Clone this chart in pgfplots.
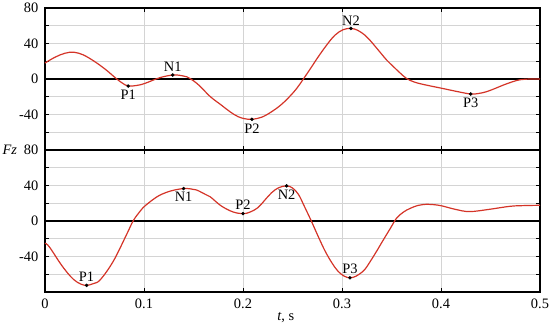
\documentclass[border=0pt]{standalone}
\usepackage{fontspec}
\setmainfont{Liberation Serif}
\usepackage{pgfplots}
\pgfplotsset{compat=1.18}
\definecolor{curve}{RGB}{212,52,40}
\definecolor{gridc}{RGB}{212,212,212}
\tikzset{lab/.style={font=\fontsize{10.8}{13}\selectfont, inner sep=1pt}}
\pgfplotsset{
  panel/.style={
    scale only axis, width=371.25pt, height=106.5pt,
    xmin=0, xmax=0.5, ymin=-80, ymax=80,
    xtick={0,0.1,0.2,0.3,0.4,0.5},
    ytick={-40,40,80}, yticklabels={-40,40,80},
    minor ytick={-60,-20,20,60},
    extra y ticks={0}, extra y tick labels={0},
    extra y tick style={grid=major, major grid style={black, line width=1.1pt}},
    grid=both,
    major grid style={gridc, line width=0.6pt},
    minor grid style={gridc, line width=0.6pt},
    tick align=inside, major tick length=3pt, minor tick length=3pt,
    tick style={black, line width=0.5pt},
    axis line style={black, line width=0.8pt},
    font=\fontsize{10.8}{13}\selectfont,
    tick label style={font=\fontsize{10.8}{13}\selectfont},
    yticklabel style={xshift=-1.5pt},
    clip=false,
  },
  curvest/.style={curve, line width=0.9pt, smooth, tension=0.6, mark=none},
  pts/.style={only marks, mark=*, mark size=1.1pt, black},
}
\begin{document}
\begin{tikzpicture}
% bottom panel
\begin{axis}[panel, at={(0,0)}, anchor=south west,
  xticklabels={0,0.1,0.2,0.3,0.4,0.5},
  xticklabel style={yshift=-2pt},
  xlabel={\textit{t}, s},
  xlabel style={at={(axis description cs:0.5,0)}, anchor=center, yshift=-19.5pt, xshift=-5pt},
]
\addplot[curvest] coordinates {
(0,-25)(0.0043,-29)(0.015,-47)(0.022,-57.5)(0.029,-66)(0.036,-71)(0.042,-72.5)(0.049,-70.5)(0.056,-66)(0.069,-45.3)
(0.0825,-15)(0.089,0)(0.095,9.5)(0.101,17)(0.113,27.2)(0.122,32)(0.130,34.7)(0.140,36.6)(0.147,36.2)(0.153,35)
(0.162,30)(0.167,27.2)(0.178,17)(0.190,10.2)(0.200,8.3)(0.207,10)(0.215,15)(0.222,23.5)(0.229,32)(0.236,37.5)(0.244,39.6)
(0.250,37.2)(0.256,30)(0.262,16.5)(0.269,0)(0.276,-17.5)(0.283,-34)(0.290,-47.5)(0.296,-56.6)(0.302,-62)(0.308,-64)(0.314,-62.3)(0.318,-59.5)(0.323,-54.7)(0.328,-46.5)
(0.335,-34)(0.342,-20.8)(0.349,-8)(0.355,3)(0.362,10)(0.369,14.3)(0.377,17.6)(0.386,18.9)(0.393,18.4)(0.401,17)(0.415,13)(0.429,10.6)
(0.449,13.2)(0.470,16.6)(0.485,17.4)(0.500,17.7)};
\addplot[pts] coordinates {(0.042,-72.5)(0.140,36.6)(0.200,8.3)(0.244,39.6)(0.308,-64)};
\node[lab, anchor=south] at (axis cs:0.042,-70) {P1};
\node[lab, anchor=north] at (axis cs:0.140,34) {N1};
\node[lab, anchor=south] at (axis cs:0.200,11) {P2};
\node[lab, anchor=north] at (axis cs:0.244,37) {N2};
\node[lab, anchor=south] at (axis cs:0.308,-61.5) {P3};
\end{axis}
% top panel
\begin{axis}[panel, at={(0,106.5pt)}, anchor=south west,
  xticklabels={},
]
\addplot[curvest] coordinates {
(0,18)(0.01,24.5)(0.02,29)(0.029,30.2)(0.038,27.5)(0.045,23.3)(0.053,17.5)(0.062,10)
(0.072,0.5)(0.078,-4.5)(0.084,-7.9)(0.093,-7.2)(0.101,-4.9)(0.116,1.5)(0.129,4.5)(0.137,4)(0.143,2.6)
(0.150,-2)(0.157,-8.6)(0.167,-19.9)(0.178,-29.3)(0.187,-37)(0.195,-42.4)(0.202,-44.8)(0.209,-45.4)(0.219,-43)
(0.229,-36.8)(0.238,-29.5)(0.246,-21)(0.254,-11)(0.261,0)(0.268,11.5)(0.276,25)(0.285,39)(0.293,49.5)(0.301,55.5)(0.309,57)(0.316,54.8)(0.323,49.5)(0.328,44)
(0.338,30.8)(0.345,21.5)(0.352,13.9)(0.358,7.5)(0.365,0.75)(0.372,-3)(0.379,-5.3)(0.390,-8)(0.401,-10.5)(0.418,-14.5)(0.430,-16.9)
(0.438,-16.3)(0.446,-14.3)(0.455,-10.5)(0.463,-6.8)(0.472,-3.2)(0.480,-0.8)(0.490,0)(0.500,0)};
\addplot[pts] coordinates {(0.084,-7.9)(0.129,4.5)(0.209,-45.4)(0.309,57)(0.430,-16.9)};
\node[lab, anchor=north] at (axis cs:0.084,-11) {P1};
\node[lab, anchor=south] at (axis cs:0.129,6.5) {N1};
\node[lab, anchor=north] at (axis cs:0.209,-48.5) {P2};
\node[lab, anchor=south] at (axis cs:0.309,59) {N2};
\node[lab, anchor=north] at (axis cs:0.430,-20) {P3};
\end{axis}
\node[font=\fontsize{10.8}{13}\selectfont\itshape, anchor=west, inner sep=0pt] at (-32pt,106.5pt) {Fz};
\pgfresetboundingbox
\path (-33.75pt,-27.75pt) rectangle (378.75pt,219pt);
\end{tikzpicture}
\end{document}
